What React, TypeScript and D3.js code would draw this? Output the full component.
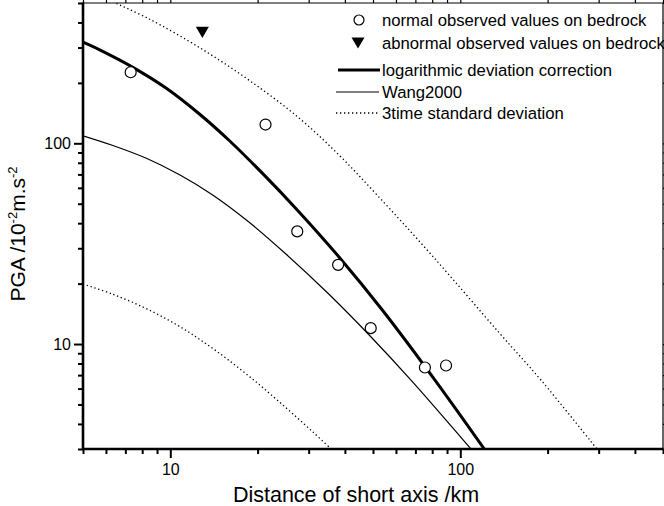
import { useEffect } from 'react';
import * as d3 from 'd3';

// observed PGA on bedrock (km, 10^-2 m/s^2)
const normalDist = [7.3, 21.3, 27.4, 37.9, 49.1, 75.5, 89.3];
const normalPga = [226, 124, 36.4, 24.8, 12.0, 7.64, 7.82];
const abnormalDist = [12.9];
const abnormalPga = [357];

// curves
const correctionDist = [5, 5.71, 7.43, 9.69, 12.6, 16.0, 20.8, 27.2, 38.3, 54.0, 82.5, 123.6];
const correctionPga = [319, 292, 239, 188, 140, 103, 70.8, 47.1, 27.0, 14.7, 6.5, 2.87];
const wangDist = [5, 6.34, 8.27, 10.8, 14.0, 18.8, 25.1, 35.4, 48.6, 67.6, 109.7];
const wangPga = [109, 97.5, 84.2, 69.5, 55.3, 40.2, 28.0, 17.6, 11.06, 6.61, 2.96];
const upperDist = [6.52, 8.49, 12.6, 18.8, 27.9, 38.3, 51.8, 80.1, 136, 190, 296];
const upperPga = [497, 415, 300, 205, 133, 87, 55, 27.5, 11.4, 6.6, 3.0];
const lowerDist = [5, 6.34, 8.27, 10.8, 14.0, 18.3, 23.8, 31.0, 36.5];
const lowerPga = [19.9, 17.7, 15.0, 12.2, 9.51, 7.09, 5.14, 3.65, 2.93];

const xMajor = [10, 100];
const xMinor = [5, 6, 7, 8, 9, 20, 30, 40, 50, 60, 70, 80, 90, 200, 300, 400, 500];
const yMajor = [10, 100];
const yMinor = [3, 4, 5, 6, 7, 8, 9, 20, 30, 40, 50, 60, 70, 80, 90, 200, 300, 400, 500];

const legendLabels = [
    'normal observed values on bedrock',
    'abnormal observed values on bedrock',
    'logarithmic deviation correction',
    'Wang2000',
    '3time standard deviation',
];

const font = '"Liberation Sans", Arial, sans-serif';

const App = () => {
    useEffect(() => {
        document.body.style.margin = '0';
    }, []);

    const width = 664, height = 506;
    const left = 83, right = 663, top = 3, bottom = 449;

    const x = d3.scaleLog().domain([5, 500]).range([left, right]);
    const y = d3.scaleLog().domain([3, 500]).range([bottom, top]);

    const line = d3.line<[number, number]>()
        .x((d) => x(d[0]))
        .y((d) => y(d[1]))
        .curve(d3.curveCatmullRom.alpha(0.5));

    const zip = (a: number[], b: number[]) => a.map((v, i) => [v, b[i]] as [number, number]);

    const styleAxis = (g: any, w: number) => {
        g.select('.domain').remove();
        g.selectAll('line').attr('stroke', '#000').attr('stroke-width', w);
        g.selectAll('text').attr('fill', '#000').style('font-family', font).style('font-size', '16px');
    };

    const bottomMajor = (ref: SVGGElement | null) => {
        if (!ref) return;
        const g = d3.select(ref);
        g.call(d3.axisBottom(x).tickValues(xMajor).tickSize(9).tickPadding(6).tickFormat(d3.format('d')));
        styleAxis(g, 2);
    };
    const bottomMinor = (ref: SVGGElement | null) => {
        if (!ref) return;
        const g = d3.select(ref);
        g.call(d3.axisBottom(x).tickValues(xMinor).tickSize(5).tickFormat(() => ''));
        styleAxis(g, 2);
    };
    const leftMajor = (ref: SVGGElement | null) => {
        if (!ref) return;
        const g = d3.select(ref);
        g.call(d3.axisLeft(y).tickValues(yMajor).tickSize(9).tickPadding(3).tickFormat(d3.format('d')));
        styleAxis(g, 2);
    };
    const leftMinor = (ref: SVGGElement | null) => {
        if (!ref) return;
        const g = d3.select(ref);
        g.call(d3.axisLeft(y).tickValues(yMinor).tickSize(5).tickFormat(() => ''));
        styleAxis(g, 2);
    };
    const topTicks = (ref: SVGGElement | null) => {
        if (!ref) return;
        const g = d3.select(ref);
        g.call(d3.axisTop(x).tickValues([...xMajor, ...xMinor]).tickSize(5).tickFormat(() => ''));
        styleAxis(g, 1.2);
    };
    const rightTicks = (ref: SVGGElement | null) => {
        if (!ref) return;
        const g = d3.select(ref);
        g.call(d3.axisRight(y).tickValues([...yMajor, ...yMinor]).tickSize(5).tickFormat(() => ''));
        styleAxis(g, 1.2);
    };

    const legendX0 = 336, legendX1 = 379, legendText = 382;
    const legendRows = [20, 43, 70, 92, 113];

    const tri = (cx: number, cy: number, s: number) =>
        `M${cx - s},${cy - s * 0.85}L${cx + s},${cy - s * 0.85}L${cx},${cy + s * 0.85}Z`;

    return (
        <svg width={width} height={height} style={{ display: 'block', background: '#fff' }}>
            <defs>
                <clipPath id="plot">
                    <rect x={left} y={top} width={right - left} height={bottom - top} />
                </clipPath>
            </defs>

            <g clipPath="url(#plot)" fill="none" stroke="#000">
                <path d={line(zip(upperDist, upperPga)) || ''} strokeWidth={1.3} strokeDasharray="1.3,2.7" />
                <path d={line(zip(lowerDist, lowerPga)) || ''} strokeWidth={1.3} strokeDasharray="1.3,2.7" />
                <path d={line(zip(wangDist, wangPga)) || ''} strokeWidth={1.2} />
                <path d={line(zip(correctionDist, correctionPga)) || ''} strokeWidth={3} />
            </g>

            {normalDist.map((d, i) => (
                <circle key={i} cx={x(d)} cy={y(normalPga[i])} r={5.5} fill="#fff" stroke="#000" strokeWidth={1.2} />
            ))}
            {abnormalDist.map((d, i) => (
                <path key={i} d={tri(x(d), y(abnormalPga[i]), 6.5)} fill="#000" />
            ))}

            {/* frame */}
            <line x1={left} x2={right} y1={top} y2={top} stroke="#000" strokeWidth={1.2} />
            <line x1={right} x2={right} y1={top} y2={bottom} stroke="#000" strokeWidth={1.2} />
            <g ref={topTicks} transform={`translate(0,${top})`} />
            <g ref={rightTicks} transform={`translate(${right},0)`} />
            <g ref={bottomMinor} transform={`translate(0,${bottom})`} />
            <g ref={bottomMajor} transform={`translate(0,${bottom})`} />
            <g ref={leftMinor} transform={`translate(${left},0)`} />
            <g ref={leftMajor} transform={`translate(${left},0)`} />
            <line x1={left} x2={right + 0.6} y1={bottom} y2={bottom} stroke="#000" strokeWidth={2.6} />
            <line x1={left} x2={left} y1={top - 0.6} y2={bottom + 1.3} stroke="#000" strokeWidth={2.6} />

            {/* legend */}
            <g fontFamily={font} fontSize={16.7} fill="#000">
                <circle cx={359} cy={legendRows[0]} r={5} fill="#fff" stroke="#000" strokeWidth={1.2} />
                <path d={tri(358, legendRows[1], 6.5)} fill="#000" />
                <line x1={legendX0 + 2} x2={legendX1 + 1} y1={legendRows[2]} y2={legendRows[2]} stroke="#000" strokeWidth={3} />
                <line x1={legendX0} x2={legendX1} y1={legendRows[3]} y2={legendRows[3]} stroke="#000" strokeWidth={1.2} />
                <line x1={legendX0} x2={legendX1} y1={legendRows[4]} y2={legendRows[4]} stroke="#000" strokeWidth={1.3} strokeDasharray="1.3,2.7" />
                {legendLabels.map((t, i) => (
                    <text key={t} x={legendText} y={legendRows[i]} dy="0.35em">{t}</text>
                ))}
            </g>

            {/* axis titles */}
            <text x={356} y={502} textAnchor="middle" fontFamily={font} fontSize={21.5} fill="#000">
                Distance of short axis /km
            </text>
            <text transform="translate(25,234) rotate(-90)" textAnchor="middle" fontFamily={font} fontSize={21} fill="#000">
                PGA /10<tspan dy={-8} fontSize={13}>-2</tspan><tspan dy={8}>m.s</tspan><tspan dy={-8} fontSize={13}>-2</tspan>
            </text>
        </svg>
    );
};

export default App;
